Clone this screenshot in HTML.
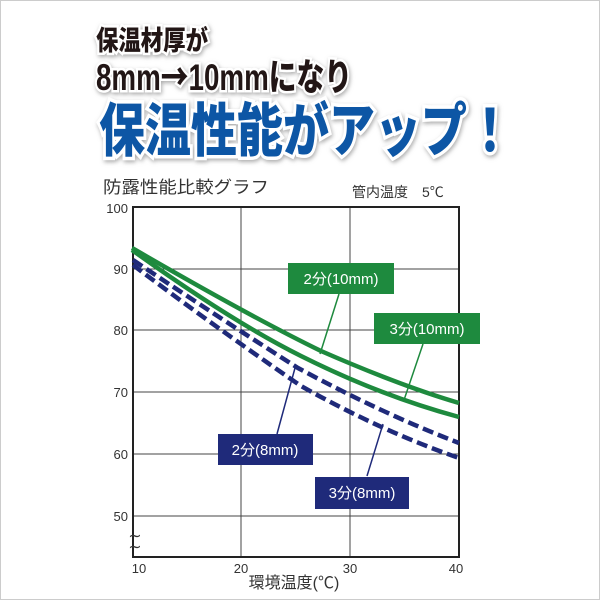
<!DOCTYPE html>
<html><head><meta charset="utf-8"><style>
html,body{margin:0;padding:0;background:#fff}
#w{position:relative;width:600px;height:600px;overflow:hidden;box-sizing:border-box;border:1px solid #ccc;background:#fff}
svg{position:absolute;left:0;top:0}
</style></head><body><div id="w">
<svg width="600" height="600" viewBox="0 0 600 600" font-family="'Liberation Sans','Noto Sans CJK JP',sans-serif">
<defs><filter id="sh" x="-10%" y="-10%" width="120%" height="130%"><feDropShadow dx="1" dy="2" stdDeviation="2" flood-color="#888" flood-opacity="0.7"/></filter></defs>
<g filter="url(#sh)" font-weight="900">
<text x="95" y="49" font-size="27" fill="#231815" stroke="#fff" stroke-width="5" paint-order="stroke" textLength="112" lengthAdjust="spacingAndGlyphs">保温材厚が</text>
<text x="95" y="89" font-size="37" fill="#231815" stroke="#fff" stroke-width="5" paint-order="stroke" textLength="256" lengthAdjust="spacingAndGlyphs">8mm<tspan font-family="'Noto Sans CJK JP',sans-serif">→</tspan>10mmになり</text>
<text x="98" y="150" font-size="58" fill="#0a56a5" stroke="#fff" stroke-width="7" paint-order="stroke" textLength="414" lengthAdjust="spacingAndGlyphs">保温性能がアップ！</text>
</g>
<text x="102" y="192" font-size="17" fill="#333" textLength="166" lengthAdjust="spacingAndGlyphs">防露性能比較グラフ</text>
<text x="351" y="196" font-size="14" fill="#333">管内温度　5℃</text>
<g stroke="#444" stroke-width="1" fill="none">
<line x1="132" y1="268" x2="458" y2="268"/><line x1="132" y1="329" x2="458" y2="329"/>
<line x1="132" y1="391" x2="458" y2="391"/><line x1="132" y1="453" x2="458" y2="453"/>
<line x1="132" y1="515" x2="458" y2="515"/>
<line x1="240" y1="206" x2="240" y2="556"/><line x1="349" y1="206" x2="349" y2="556"/>
</g>
<path d="M132 206 H458 V556 H132 Z" fill="none" stroke="#222" stroke-width="2"/>
<g font-size="13" fill="#333" text-anchor="end">
<text x="127" y="212">100</text><text x="127" y="273">90</text><text x="127" y="334">80</text>
<text x="127" y="396">70</text><text x="127" y="458">60</text><text x="127" y="520">50</text>
</g>
<text x="134" y="540" font-size="16" fill="#333" text-anchor="middle">∼</text>
<text x="134" y="551" font-size="16" fill="#333" text-anchor="middle">∼</text>
<g font-size="13" fill="#333" text-anchor="middle">
<text x="138" y="572">10</text><text x="240" y="572">20</text><text x="349" y="572">30</text><text x="455" y="572">40</text>
</g>
<text x="293" y="587" font-size="16" fill="#333" text-anchor="middle">環境温度(℃)</text>
<g fill="none" stroke-width="4.5">
<path d="M131 247 Q250 316 320 350 Q400 385 458 402" stroke="#1e8a3e"/>
<path d="M131 249 Q230 320 300 355 Q380 395 458 416" stroke="#1e8a3e"/>
<path d="M132 259 Q220 318 297 367 Q380 412 458 442" stroke="#1f2a7a" stroke-dasharray="11 5"/>
<path d="M132 264 Q210 323 300 385 Q380 430 458 457" stroke="#1f2a7a" stroke-dasharray="11 5"/>
</g>
<g stroke-width="1.5">
<line x1="338" y1="293" x2="319" y2="353" stroke="#1e8a3e"/>
<line x1="422" y1="343" x2="403" y2="399" stroke="#1e8a3e"/>
<line x1="276" y1="433" x2="294" y2="367" stroke="#1f2a7a"/>
<line x1="366" y1="475" x2="382" y2="423" stroke="#1f2a7a"/>
</g>
<g font-size="15" fill="#fff" text-anchor="middle">
<rect x="287" y="262" width="106" height="31" fill="#1e8a3e"/><text x="340" y="283">2分(10mm)</text>
<rect x="373" y="312" width="106" height="31" fill="#1e8a3e"/><text x="426" y="333">3分(10mm)</text>
<rect x="217" y="433" width="95" height="31" fill="#1f2a7a"/><text x="264" y="454">2分(8mm)</text>
<rect x="314" y="476" width="94" height="32" fill="#1f2a7a"/><text x="361" y="497">3分(8mm)</text>
</g>
</svg></div></body></html>
